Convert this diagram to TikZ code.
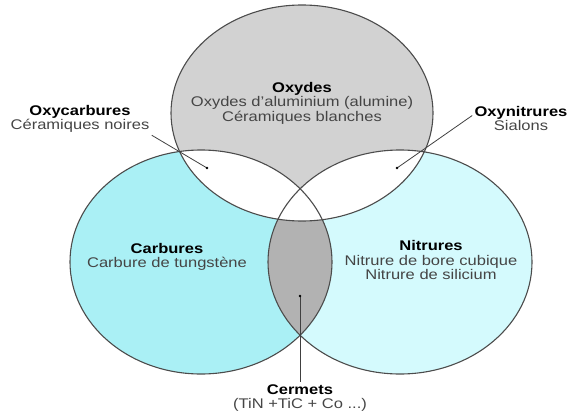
\documentclass[tikz,border=0pt]{standalone}
\usepackage{fontspec}
\setmainfont{Liberation Sans}[FakeStretch=1.18]
\definecolor{grisO}{HTML}{D2D2D2}
\definecolor{grisL}{HTML}{B2B2B2}
\definecolor{cyanC}{HTML}{AAF0F5}
\definecolor{cyanN}{HTML}{D4FAFD}
\definecolor{texte}{HTML}{454545}
\begin{document}
\begin{tikzpicture}[x=0.5pt,y=-0.5pt,
        lbl/.style={align=center,text=texte,inner sep=1pt,
                font=\fontsize{7}{7.3}\selectfont},
        fleche/.style={draw=black!75,line width=0.4pt},
        bord/.style={draw=black!70,line width=0.55pt}]
        \useasboundingbox (0,0) rectangle (571,417) ;
        % les trois ellipses
        \def\Oxy{(302,113) ellipse [x radius=131,y radius=108]}
        \def\Car{(201,262) ellipse [x radius=131,y radius=112]}
        \def\Nit{(400,262) ellipse [x radius=132,y radius=112]}
        \fill[cyanC] \Car ;
        \fill[cyanN] \Nit ;
        \begin{scope}
          \clip \Car ;
          \fill[grisL] \Nit ;
        \end{scope}
        \fill[grisO] \Oxy ;
        \begin{scope}
          \clip \Oxy ;
          \fill[white] \Car ;
          \fill[white] \Nit ;
        \end{scope}
        \draw[bord] \Oxy \Car \Nit ;
        % textes
        \node[lbl] (oxydes) at (302,103)
        {\textbf{\color{black}Oxydes}\\Oxydes d'aluminium (alumine)\\C\'eramiques blanches} ;
        \node[lbl] (oxycarb) at (80,119)
        {\textbf{\color{black}Oxycarbures}\\C\'eramiques noires} ;
        \node[lbl] (oxynit) at (521,118.5)
        {\textbf{\color{black}Oxynitrures}\\Sialons} ;
        \node[lbl] (carb) at (167,257)
        {\textbf{\color{black}Carbures}\\Carbure de tungst\`ene} ;
        \node[lbl] (nitr) at (431,260)
        {\textbf{\color{black}Nitrures}\\Nitrure de bore cubique\\Nitrure de silicium} ;
        \node[lbl] (cermet) at (300,398)
        {\textbf{\color{black}Cermets}\\(TiN +TiC + Co ...)} ;
        % reperes
        \coordinate (pOC) at (207,168) ;
        \coordinate (pON) at (397,168) ;
        \coordinate (pCN) at (300,296) ;
        \draw[fleche] (oxycarb.south east) -- (pOC) ;
        \draw[fleche] ([yshift=1.5pt]oxynit.west) -- (pON) ;
        \draw[fleche] (cermet.north) -- (pCN) ;
        \foreach \p in {pOC,pON,pCN}
          \fill[black] (\p) circle (1.3) ;
      \end{tikzpicture}
\end{document}
